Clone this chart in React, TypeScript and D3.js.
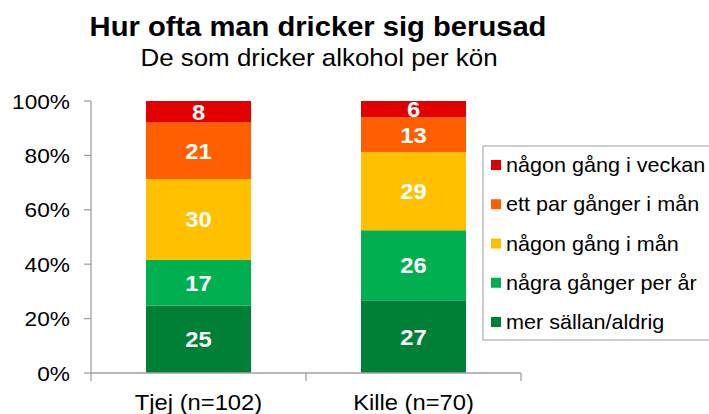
import React from 'react';
import * as d3 from 'd3';

// categories on the x axis
const groups = ['Tjej (n=102)', 'Kille (n=70)'];

// series, bottom to top of the stack
const seriesNames = [
  'mer sällan/aldrig',
  'några gånger per år',
  'någon gång i mån',
  'ett par gånger i mån',
  'någon gång i veckan',
];
const seriesColors = ['#008037', '#00b050', '#ffc000', '#ff5f00', '#e00000'];

// values per group, same order as seriesNames
const tjejValues = [25, 17, 30, 21, 8];
const killeValues = [27, 26, 29, 13, 6];

const yTicks = [0, 0.2, 0.4, 0.6, 0.8, 1];

const W = 709;
const H = 414;
const SX = 1.08; // text in the original is slightly wide
const FONT = '"Liberation Sans", Arial, sans-serif';

const margin = { top: 101, left: 91, right: 188, bottom: 41 };

const Txt: React.FC<{
  x: number;
  y: number;
  size: number;
  anchor?: 'start' | 'middle' | 'end';
  weight?: string;
  fill?: string;
  children: React.ReactNode;
}> = ({ x, y, size, anchor = 'start', weight = 'normal', fill = '#000', children }) => (
  <text
    transform={`translate(${x},${y}) scale(${SX},1)`}
    fontSize={size}
    fontFamily={FONT}
    fontWeight={weight}
    textAnchor={anchor}
    fill={fill}
  >
    {children}
  </text>
);

const App: React.FC = () => {
  const innerW = W - margin.left - margin.right;
  const innerH = H - margin.top - margin.bottom;

  const rows = groups.map((g, i) => {
    const vals = i === 0 ? tjejValues : killeValues;
    const row: Record<string, number | string> = { group: g };
    seriesNames.forEach((s, j) => (row[s] = vals[j]));
    return row;
  });

  const stacked = d3
    .stack<Record<string, number | string>>()
    .keys(seriesNames)
    .value((d, k) => d[k] as number)
    .offset(d3.stackOffsetExpand)(rows);

  const x = d3.scaleBand<string>().domain(groups).range([0, innerW]).paddingInner(0).paddingOuter(0);
  const barW = 105;
  const y = d3.scaleLinear().domain([0, 1]).range([innerH, 0]);

  const legendX = 483;
  const legendY = 146;
  const legendRow = d3.scaleLinear().domain([0, seriesNames.length - 1]).range([19, 176]);

  return (
    <svg width={W} height={H} style={{ position: 'absolute', left: 0, top: 0 }}>
      <rect width={W} height={H} fill="#fff" />
      <Txt x={318} y={36} size={27} anchor="middle" weight="bold">
        Hur ofta man dricker sig berusad
      </Txt>
      <Txt x={319} y={66} size={24} anchor="middle">
        De som dricker alkohol per kön
      </Txt>

      <g transform={`translate(${margin.left},${margin.top})`}>
        {stacked.map((layer, si) => (
          <g key={layer.key}>
            {layer.map((seg, gi) => {
              const bx = (x(groups[gi]) ?? 0) + (x.bandwidth() - barW) / 2;
              const y0 = y(seg[0]);
              const y1 = y(seg[1]);
              const val = (gi === 0 ? tjejValues : killeValues)[si];
              return (
                <g key={gi}>
                  <rect x={bx} y={y1} width={barW} height={y0 - y1} fill={seriesColors[si]} />
                  <Txt x={bx + barW / 2} y={(y0 + y1) / 2 + 8} size={22} anchor="middle" weight="bold" fill="#fff">
                    {val}
                  </Txt>
                </g>
              );
            })}
          </g>
        ))}

        {/* y axis */}
        <line x1={0} x2={0} y1={0} y2={innerH} stroke="#a0a0a0" strokeWidth={1.3} />
        {yTicks.map((t) => (
          <g key={t}>
            <line x1={-7} x2={0} y1={y(t)} y2={y(t)} stroke="#a0a0a0" strokeWidth={1.3} />
            <Txt x={-21} y={y(t) + 7.5} size={21} anchor="end">
              {`${Math.round(t * 100)}%`}
            </Txt>
          </g>
        ))}

        {/* x axis */}
        <line x1={0} x2={innerW} y1={innerH} y2={innerH} stroke="#a0a0a0" strokeWidth={1.3} />
        {[0, ...groups.map((g) => (x(g) ?? 0) + x.bandwidth())].map((p, i) => (
          <line key={i} x1={p} x2={p} y1={innerH} y2={innerH + 8} stroke="#a0a0a0" strokeWidth={1.3} />
        ))}
        {groups.map((g) => (
          <Txt key={g} x={(x(g) ?? 0) + x.bandwidth() / 2} y={innerH + 37} size={22} anchor="middle">
            {g}
          </Txt>
        ))}
      </g>

      {/* legend */}
      <rect x={legendX} y={legendY} width={240} height={194} fill="#fff" stroke="#b4b4b4" strokeWidth={1.3} />
      {seriesNames
        .slice()
        .reverse()
        .map((s, i) => {
          const cy = legendY + legendRow(i);
          const ci = seriesNames.length - 1 - i;
          return (
            <g key={s}>
              <rect x={legendX + 8} y={cy - 5} width={10} height={10} fill={seriesColors[ci]} />
              <Txt x={legendX + 23} y={cy + 7} size={20}>
                {s}
              </Txt>
            </g>
          );
        })}
    </svg>
  );
};

export default App;
